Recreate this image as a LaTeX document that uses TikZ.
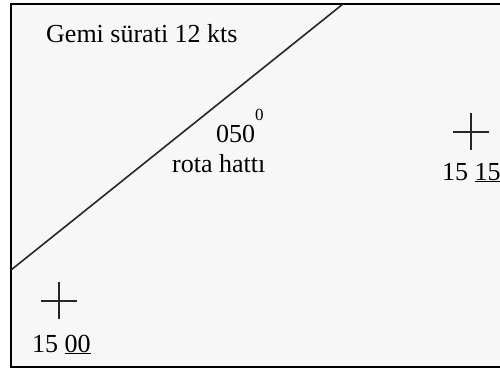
\documentclass[tikz,border=0pt]{standalone}
\usepackage{fontspec}
\setmainfont{Liberation Serif}
\begin{document}
\begin{tikzpicture}[x=1pt,y=-1pt,
  lbl/.style={inner sep=0pt,anchor=base west,font=\fontsize{26}{30}\selectfont},
  crossline/.style={line width=1.5pt,draw=black!85},
  frameline/.style={line width=2pt,draw=black}]
\useasboundingbox (0,0) rectangle (500,368);
\fill[white] (0,0) rectangle (500,368);
\fill[black!3] (11,4) rectangle (500,367);
\draw[frameline] (11,367) -- (11,3.5) -- (500,3.5);
\draw[frameline] (10,367) -- (500,367);
% course line
\coordinate (ls) at (11,270);
\coordinate (le) at (343,4);
\draw[line width=1.6pt,draw=black!85] (ls) -- (le);
% crosses
\coordinate (c1) at (59,301);
\coordinate (c2) at (471,132);
\draw[crossline] ([xshift=-18pt]c1) -- ([xshift=18pt]c1);
\draw[crossline] ([yshift=-18pt]c1) -- ([yshift=19pt]c1);
\draw[crossline] ([xshift=-18pt]c2) -- ([xshift=18pt]c2);
\draw[crossline] ([yshift=-18pt]c2) -- ([yshift=19pt]c2);
% labels
\node[lbl] (speed) at (46,42) {Gemi sürati 12 kts};
\node[lbl] (course) at (216,142) {050\raisebox{22pt}{\fontsize{17}{20}\selectfont 0}};
\node[lbl] (rota) at (172,172) {rota hattı};
\node[lbl] (t2) at (442,180) {15 \underline{15}};
\node[lbl] (t1) at (32,352) {15 \underline{00}};
\end{tikzpicture}
\end{document}
